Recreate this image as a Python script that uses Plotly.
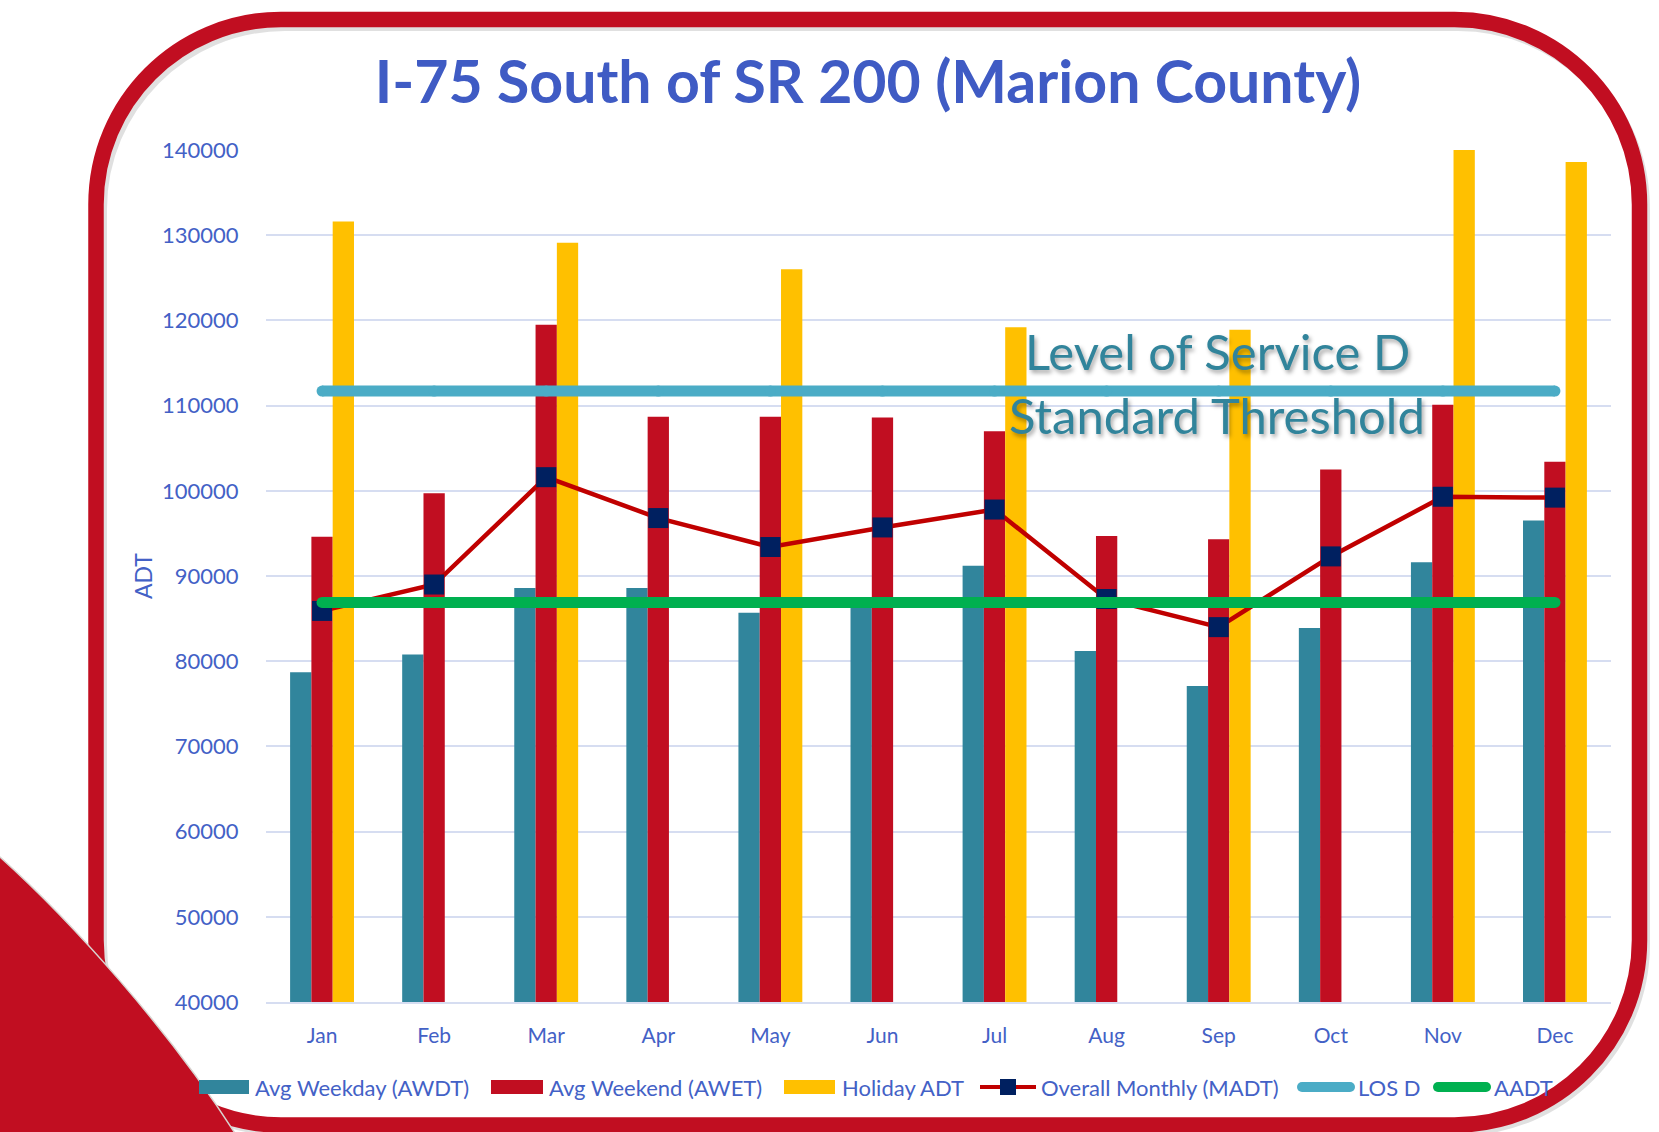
import plotly.graph_objects as go

# ---- data -------------------------------------------------------------
months = ["Jan", "Feb", "Mar", "Apr", "May", "Jun",
          "Jul", "Aug", "Sep", "Oct", "Nov", "Dec"]
awdt = [78700, 80800, 88600, 88600, 85700, 87300,
        91200, 81200, 77100, 83900, 91600, 96500]
awet = [94600, 99700, 119500, 108700, 108700, 108600,
        107000, 94700, 94300, 102500, 110100, 103400]
holiday = [131600, None, 129100, None, 126000, None,
           119200, None, 118900, None, 140000, 138600]
madt = [85900, 89000, 101600, 96800, 93400, 95700,
        97800, 87300, 84000, 92300, 99300, 99200]
los_d = 111700
aadt = 86900

y_ticks = [40000, 50000, 60000, 70000, 80000, 90000,
           100000, 110000, 120000, 130000, 140000]

# ---- styling ----------------------------------------------------------
FONT = "Lato"
BLUE_TXT = "#4361C6"
TITLE_BLUE = "#3F5BC4"
TEAL = "#31859C"
RED_BAR = "#C10E21"
YELLOW = "#FFC000"
LINE_RED = "#C00000"
NAVY = "#002060"
LOS_BLUE = "#4BACC6"
GREEN = "#00B050"
FRAME_RED = "#C10E21"

W, H = 1659, 1132
PL, PR, PT, PB = 266, 1611, 150, 1002   # plot-area edges in page pixels


def X(px):
    return (px - PL) / (PR - PL)


def Y(py):
    return (PB - py) / (PB - PT)


fig = go.Figure()

fig.add_trace(go.Bar(x=months, y=awdt, name="Avg Weekday (AWDT)",
                     marker=dict(color=TEAL, line=dict(width=0)), showlegend=False))
fig.add_trace(go.Bar(x=months, y=awet, name="Avg Weekend (AWET)",
                     marker=dict(color=RED_BAR, line=dict(width=0)), showlegend=False))
fig.add_trace(go.Bar(x=months, y=holiday, name="Holiday ADT",
                     marker=dict(color=YELLOW, line=dict(width=0)), showlegend=False))
fig.add_trace(go.Scatter(x=months, y=madt, name="Overall Monthly (MADT)",
                         mode="lines+markers",
                         line=dict(color=LINE_RED, width=4.5),
                         marker=dict(symbol="square", size=20, color=NAVY),
                         showlegend=False))
fig.add_trace(go.Scatter(x=months, y=[los_d] * len(months), name="LOS D",
                         mode="lines+markers",
                         line=dict(color=LOS_BLUE, width=11),
                         marker=dict(symbol="circle", size=11, color=LOS_BLUE),
                         showlegend=False))
fig.add_trace(go.Scatter(x=months, y=[aadt] * len(months), name="AADT",
                         mode="lines+markers",
                         line=dict(color=GREEN, width=11),
                         marker=dict(symbol="circle", size=11, color=GREEN),
                         showlegend=False))

# ---- decorative frame -------------------------------------------------
def rounded_rect(l, t, r, b, rad):
    k = 0.5523 * rad
    return (
        f"M {X(l + rad)},{Y(t)} L {X(r - rad)},{Y(t)} "
        f"C {X(r - rad + k)},{Y(t)} {X(r)},{Y(t + rad - k)} {X(r)},{Y(t + rad)} "
        f"L {X(r)},{Y(b - rad)} "
        f"C {X(r)},{Y(b - rad + k)} {X(r - rad + k)},{Y(b)} {X(r - rad)},{Y(b)} "
        f"L {X(l + rad)},{Y(b)} "
        f"C {X(l + rad - k)},{Y(b)} {X(l)},{Y(b - rad + k)} {X(l)},{Y(b - rad)} "
        f"L {X(l)},{Y(t + rad)} "
        f"C {X(l)},{Y(t + rad - k)} {X(l + rad - k)},{Y(t)} {X(l + rad)},{Y(t)} Z"
    )


shapes = []
# soft drop shadow under the frame
shapes.append(dict(type="path", xref="paper", yref="paper", layer="above",
                   path=rounded_rect(100, 24, 1643, 1129, 185),
                   line=dict(color="rgba(0,0,0,0.12)", width=14)))
shapes.append(dict(type="path", xref="paper", yref="paper", layer="above",
                   path=rounded_rect(96, 19.5, 1639.5, 1125, 185),
                   line=dict(color=FRAME_RED, width=15.5)))
# corner wedge bottom-left
wedge = (f"M {X(-5)},{Y(852)} L {X(0)},{Y(857)} "
         f"C {X(70)},{Y(920)} {X(170)},{Y(1030)} {X(238)},{Y(1138)} "
         f"L {X(-5)},{Y(1138)} Z")
shapes.append(dict(type="path", xref="paper", yref="paper", layer="above",
                   path=wedge, fillcolor=FRAME_RED,
                   line=dict(color="#D8D4D0", width=1.5)))

# ---- legend (drawn manually to mimic wide swatches) -------------------
annotations = []
leg_y = 1087
leg_font = dict(family=FONT, size=22, color=BLUE_TXT)


def leg_text(x, text):
    annotations.append(dict(x=X(x), y=Y(leg_y), xref="paper", yref="paper",
                            text=text, showarrow=False, xanchor="left",
                            yanchor="middle", font=leg_font))


for x0, x1, col, name, tx in [(199, 249, TEAL, "Avg Weekday (AWDT)", 253),
                              (491, 543, RED_BAR, "Avg Weekend (AWET)", 547),
                              (784, 835, YELLOW, "Holiday ADT", 840)]:
    shapes.append(dict(type="rect", xref="paper", yref="paper", layer="above",
                       x0=X(x0), x1=X(x1), y0=Y(leg_y - 7), y1=Y(leg_y + 7),
                       fillcolor=col, line=dict(width=0)))
    leg_text(tx, name)

# MADT legend entry
shapes.append(dict(type="line", xref="paper", yref="paper", layer="above",
                   x0=X(980), x1=X(1036), y0=Y(leg_y), y1=Y(leg_y),
                   line=dict(color=LINE_RED, width=4)))
shapes.append(dict(type="rect", xref="paper", yref="paper", layer="above",
                   x0=X(1000), x1=X(1016), y0=Y(leg_y - 8), y1=Y(leg_y + 8),
                   fillcolor=NAVY, line=dict(width=0)))
leg_text(1039, "Overall Monthly (MADT)")

for x0, x1, col, name, tx in [(1302, 1350, LOS_BLUE, "LOS D", 1356),
                              (1438, 1486, GREEN, "AADT", 1492)]:
    shapes.append(dict(type="line", xref="paper", yref="paper", layer="above",
                       x0=X(x0), x1=X(x1), y0=Y(leg_y), y1=Y(leg_y),
                       line=dict(color=col, width=10)))
    for cx in (x0, x1):
        shapes.append(dict(type="circle", xref="paper", yref="paper", layer="above",
                           x0=X(cx - 5), x1=X(cx + 5), y0=Y(leg_y - 5), y1=Y(leg_y + 5),
                           fillcolor=col, line=dict(width=0)))
    leg_text(tx, name)

# ---- threshold caption ------------------------------------------------
cap_font = dict(family=FONT, size=49, color="#31849B",
                shadow="2px 3px 4px rgba(0,0,0,0.35)")
annotations.append(dict(x=X(1217), y=Y(351), xref="paper", yref="paper",
                        text="Level of Service D", showarrow=False,
                        xanchor="center", yanchor="middle", font=cap_font))
annotations.append(dict(x=X(1217), y=Y(415), xref="paper", yref="paper",
                        text="Standard Threshold", showarrow=False,
                        xanchor="center", yanchor="middle", font=cap_font))

fig.update_layout(
    width=W, height=H,
    margin=dict(l=PL, r=W - PR, t=PT, b=H - PB, pad=0),
    paper_bgcolor="white", plot_bgcolor="white",
    barmode="group", bargap=0.43, bargroupgap=0,
    title=dict(text="I-75 South of SR 200 (Marion County)",
               x=868 / W, xanchor="center", xref="container",
               y=1 - 82 / H, yanchor="middle", yref="container",
               font=dict(family=FONT, size=59, color=TITLE_BLUE, weight="bold")),
    xaxis=dict(type="category", range=[-0.5, len(months) - 0.5],
               showgrid=False, ticks="outside", ticklen=14,
               tickcolor="rgba(0,0,0,0)",
               tickfont=dict(family=FONT, size=21, color=BLUE_TXT),
               showline=True, linecolor="#D6DDF1", linewidth=2),
    yaxis=dict(range=[40000, 140000], tickvals=y_ticks,
               ticktext=[str(v) for v in y_ticks],
               showgrid=True, gridcolor="#D6DDF1", gridwidth=2,
               zeroline=False, ticks="outside", ticklen=22,
               tickcolor="rgba(0,0,0,0)",
               tickfont=dict(family=FONT, size=22, color=BLUE_TXT),
               title=dict(text="ADT", standoff=2,
                          font=dict(family=FONT, size=23, color=BLUE_TXT))),
    shapes=shapes,
    annotations=annotations,
    showlegend=False,
)

fig.write_html("out.html")
